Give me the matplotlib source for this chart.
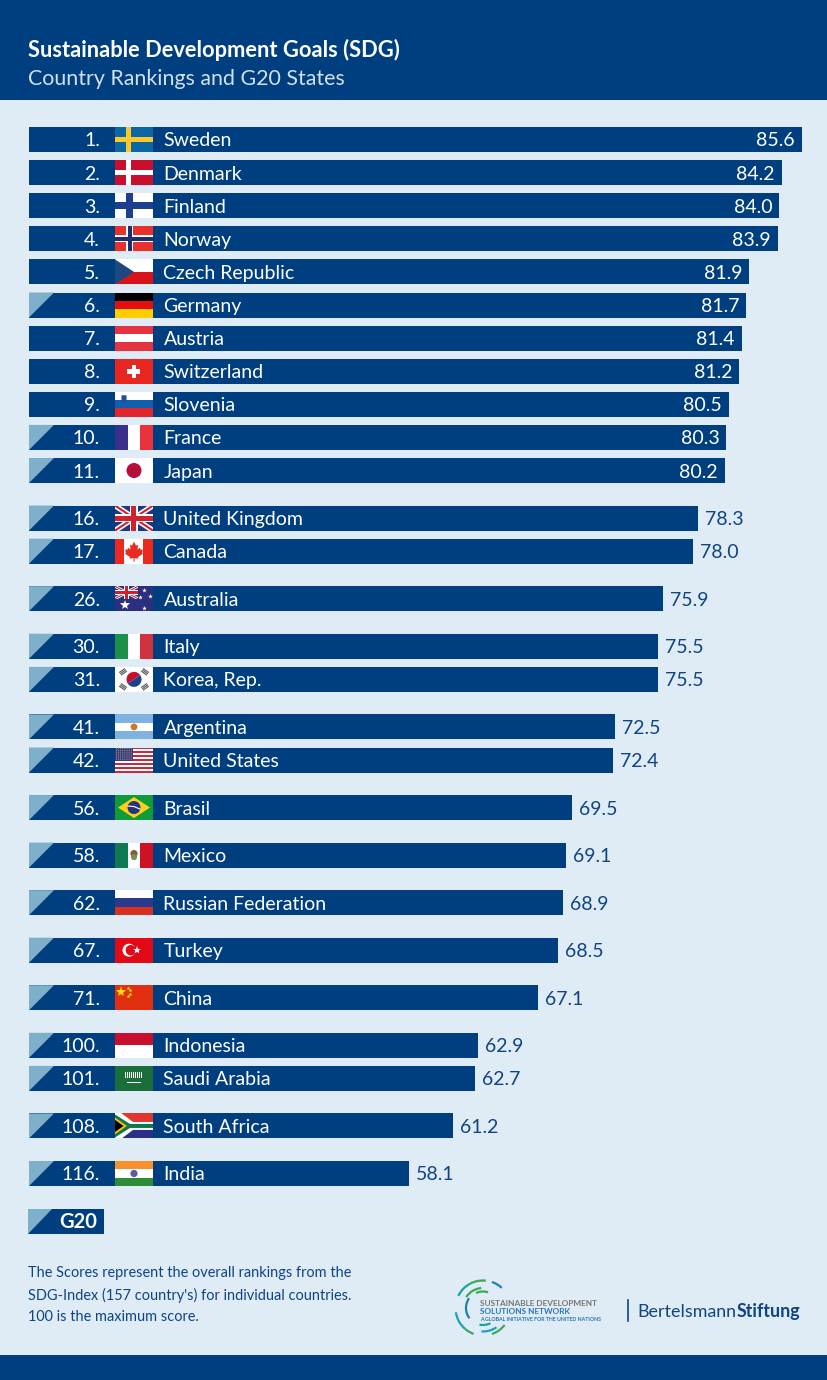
import numpy as np
import matplotlib
matplotlib.use("Agg")
import matplotlib.pyplot as plt
from matplotlib.patches import Rectangle, Polygon, Circle, Wedge, Arc
from matplotlib.transforms import Affine2D

plt.rcParams["font.family"] = ["Lato", "DejaVu Sans"]

ranks = [1, 2, 3, 4, 5, 6, 7, 8, 9, 10, 11, 16, 17, 26, 30, 31, 41, 42, 56, 58,
         62, 67, 71, 100, 101, 108, 116]
countries = ["Sweden", "Denmark", "Finland", "Norway", "Czech Republic", "Germany",
             "Austria", "Switzerland", "Slovenia", "France", "Japan", "United Kingdom",
             "Canada", "Australia", "Italy", "Korea, Rep.", "Argentina", "United States",
             "Brasil", "Mexico", "Russian Federation", "Turkey", "China", "Indonesia",
             "Saudi Arabia", "South Africa", "India"]
scores = [85.6, 84.2, 84.0, 83.9, 81.9, 81.7, 81.4, 81.2, 80.5, 80.3, 80.2, 78.3,
          78.0, 75.9, 75.5, 75.5, 72.5, 72.4, 69.5, 69.1, 68.9, 68.5, 67.1, 62.9,
          62.7, 61.2, 58.1]
g20 = ["Germany", "France", "Japan", "United Kingdom", "Canada", "Australia", "Italy",
       "Korea, Rep.", "Argentina", "United States", "Brasil", "Mexico",
       "Russian Federation", "Turkey", "China", "Indonesia", "Saudi Arabia",
       "South Africa", "India"]
note_lines = ["The Scores represent the overall rankings from the",
              "SDG-Index (157 country's) for individual countries.",
              "100 is the maximum score."]

W, H = 828, 1380
BLUE = "#003f7f"
BG = "#dfecf5"
LIGHT = "#7fb0cb"
TEXT = "#0f4485"
BAR_H = 25
FLAG_W, FLAG_H = 38, 25

fig = plt.figure(figsize=(W / 100, H / 100), dpi=100, facecolor=BG)

# bar centres: ranks that follow each other sit closer than the rest
ys = [139.5]
for a, b in zip(ranks[:-1], ranks[1:]):
    ys.append(ys[-1] + (33.1 if b - a == 1 else 47.55))

ax_bars = fig.add_axes([29 / W, 0, 773 / W, 1])
ax_bars.set_xlim(31.5, 85.6)
ax_bars.set_ylim(H, 0)
ax_bars.axis("off")
ax_bars.barh(ys, scores, height=BAR_H, color=BLUE)

ax = fig.add_axes([0, 0, 1, 1])
ax.set_xlim(0, W)
ax.set_ylim(H, 0)
ax.axis("off")
ax.patch.set_alpha(0)


def rect(tr, clip, x, y, w, h, color):
    p = Rectangle((x, y), w, h, fc=color, ec="none", transform=tr, lw=0)
    ax.add_patch(p)
    p.set_clip_path(clip)


def poly(tr, clip, pts, color):
    p = Polygon(pts, closed=True, fc=color, ec="none", transform=tr, lw=0)
    ax.add_patch(p)
    p.set_clip_path(clip)


def disc(tr, x, y, r, color):
    ax.add_patch(Circle((x, y), r, fc=color, ec="none", transform=tr, lw=0))


def star(tr, x, y, size, color):
    ax.plot([x], [y], marker="*", ms=size, color=color, mew=0, transform=tr)


def hstripes(tr, clip, colors):
    h = FLAG_H / len(colors)
    for i, c in enumerate(colors):
        rect(tr, clip, 0, i * h, FLAG_W, h + 0.2, c)


def vstripes(tr, clip, colors):
    w = FLAG_W / len(colors)
    for i, c in enumerate(colors):
        rect(tr, clip, i * w, 0, w + 0.2, FLAG_H, c)


def nordic(tr, clip, bg, outer, inner=None, ow=6, iw=3):
    rect(tr, clip, 0, 0, FLAG_W, FLAG_H, bg)
    rect(tr, clip, 11.5, 0, ow, FLAG_H, outer)
    rect(tr, clip, 0, (FLAG_H - ow) / 2, FLAG_W, ow, outer)
    if inner:
        rect(tr, clip, 11.5 + (ow - iw) / 2, 0, iw, FLAG_H, inner)
        rect(tr, clip, 0, (FLAG_H - iw) / 2, FLAG_W, iw, inner)


def union_jack(tr, clip, w, h):
    rect(tr, clip, 0, 0, w, h, "#26357f")
    for (a, b), (c, d) in [((0, 0), (w, h)), ((0, h), (w, 0))]:
        for col, lw in [("white", 0.13), ("#d0222e", 0.05)]:
            t = lw * h
            poly(tr, clip, [(a, b - t), (c, d - t), (c, d + t), (a, b + t)], col)
    rect(tr, clip, w / 2 - 0.17 * h, 0, 0.34 * h, h, "white")
    rect(tr, clip, 0, 0.33 * h, w, 0.34 * h, "white")
    rect(tr, clip, w / 2 - 0.1 * h, 0, 0.2 * h, h, "#d0222e")
    rect(tr, clip, 0, 0.4 * h, w, 0.2 * h, "#d0222e")


def draw_flag(name, x, y_top):
    tr = Affine2D().translate(x, y_top) + ax.transData
    clip = Rectangle((0, 0), FLAG_W, FLAG_H, transform=tr)
    if name == "Sweden":
        nordic(tr, clip, "#0a67a3", "#fdc72e", ow=5)
    elif name == "Denmark":
        nordic(tr, clip, "#c8102e", "white", ow=5)
    elif name == "Finland":
        nordic(tr, clip, "white", "#1c3f8f", ow=7)
    elif name == "Norway":
        nordic(tr, clip, "#e8312a", "white", "#1c2f6e", ow=7, iw=3.5)
    elif name == "Czech Republic":
        hstripes(tr, clip, ["white", "#d7141a"])
        poly(tr, clip, [(0, 0), (19, 12.5), (0, 25)], "#1c4a80")
    elif name == "Germany":
        hstripes(tr, clip, ["#000000", "#e30f0f", "#ffce00"])
    elif name == "Austria":
        hstripes(tr, clip, ["#e4343f", "white", "#e4343f"])
    elif name == "Switzerland":
        rect(tr, clip, 0, 0, FLAG_W, FLAG_H, "#e8261f")
        rect(tr, clip, 16.7, 6, 4.6, 13, "white")
        rect(tr, clip, 12.5, 10.2, 13, 4.6, "white")
    elif name == "Slovenia":
        hstripes(tr, clip, ["white", "#0f5fae", "#e0262d"])
        poly(tr, clip, [(6.5, 3.5), (11.5, 3.5), (11.5, 9), (9, 11), (6.5, 9)], "#1f4f9f")
    elif name == "France":
        vstripes(tr, clip, ["#3a2f8a", "white", "#e9323a"])
    elif name == "Japan":
        rect(tr, clip, 0, 0, FLAG_W, FLAG_H, "white")
        disc(tr, 19, 12.5, 7.5, "#b80f3a")
    elif name == "United Kingdom":
        union_jack(tr, clip, FLAG_W, FLAG_H)
    elif name == "Canada":
        vstripes(tr, clip, ["#ea2a1e", "white", "white", "#ea2a1e"])
        leaf = [(19, 3), (21, 7), (23, 6), (22.5, 11), (25, 9), (25.5, 11), (28, 11),
                (27, 14), (28, 15), (23, 18.5), (23.5, 20), (19.5, 19.5), (19.5, 23),
                (18.5, 23), (18.5, 19.5), (14.5, 20), (15, 18.5), (10, 15), (11, 14),
                (10, 11), (12.5, 11), (13, 9), (15.5, 11), (15, 6), (17, 7)]
        poly(tr, clip, leaf, "#ea2a1e")
    elif name == "Australia":
        rect(tr, clip, 0, 0, FLAG_W, FLAG_H, "#2a2f80")
        sub = Rectangle((0, 0), 23, 12.5, transform=tr)
        union_jack(tr, sub, 23, 12.5)
        star(tr, 10.5, 19, 7, "white")
        for sx, sy in [(29, 21.5), (29, 4), (35, 10), (25, 11)]:
            star(tr, sx, sy, 3.5, "white")
    elif name == "Italy":
        vstripes(tr, clip, ["#1a9049", "white", "#d0333f"])
    elif name == "Korea, Rep.":
        rect(tr, clip, 0, 0, FLAG_W, FLAG_H, "white")
        ax.add_patch(Wedge((19, 12.5), 7.5, 145, 325, fc="#c8102e", ec="none", transform=tr))
        ax.add_patch(Wedge((19, 12.5), 7.5, 325, 145, fc="#1c3f8f", ec="none", transform=tr))
        for cx, cy, ang in [(8, 5, -35), (30, 5, 35), (8, 20, 35), (30, 20, -35)]:
            d = np.deg2rad(ang)
            ux, uy = np.cos(d), np.sin(d)
            for k in (-1.6, 0, 1.6):
                ax.plot([cx - 3 * ux - k * uy, cx + 3 * ux - k * uy],
                        [cy - 3 * uy + k * ux, cy + 3 * uy + k * ux],
                        color="#555555", lw=0.8, transform=tr)
    elif name == "Argentina":
        hstripes(tr, clip, ["#7fb2e0", "white", "#7fb2e0"])
        disc(tr, 19, 12.5, 3.4, "#c77a26")
    elif name == "United States":
        h = FLAG_H / 13
        for i in range(13):
            rect(tr, clip, 0, i * h, FLAG_W, h + 0.1, "#c8283a" if i % 2 == 0 else "white")
        rect(tr, clip, 0, 0, 18, 7 * h, "#3c3b6e")
        for row in range(6):
            for col in range(8):
                disc(tr, 1.5 + col * 2.1, 1.2 + row * 2.1, 0.45, "#c9cbe0")
    elif name == "Brasil":
        rect(tr, clip, 0, 0, FLAG_W, FLAG_H, "#0f9b3a")
        poly(tr, clip, [(3, 12.5), (19, 2), (35, 12.5), (19, 23)], "#fcd116")
        disc(tr, 19, 12.5, 6.5, "#26357f")
        ax.plot([13, 19, 25], [11, 11.5, 14], color="white", lw=0.8, transform=tr)
    elif name == "Mexico":
        vstripes(tr, clip, ["#0f7a50", "white", "#ce1126"])
        disc(tr, 19, 11, 3.6, "#8a5a32")
        disc(tr, 19, 14.5, 3, "#6f8f5f")
    elif name == "Russian Federation":
        hstripes(tr, clip, ["white", "#2a3a8f", "#d8301f"])
    elif name == "Turkey":
        rect(tr, clip, 0, 0, FLAG_W, FLAG_H, "#e30a17")
        disc(tr, 14, 12.5, 6.5, "white")
        disc(tr, 15.8, 12.5, 5.2, "#e30a17")
        star(tr, 22.5, 12.5, 6, "white")
    elif name == "China":
        rect(tr, clip, 0, 0, FLAG_W, FLAG_H, "#e0300f")
        star(tr, 6.5, 6.5, 8, "#ffde00")
        for sx, sy in [(13, 2.5), (15.5, 5), (15.5, 8.5), (13, 11)]:
            star(tr, sx, sy, 3, "#ffde00")
    elif name == "Indonesia":
        hstripes(tr, clip, ["#c8102e", "white"])
    elif name == "Saudi Arabia":
        rect(tr, clip, 0, 0, FLAG_W, FLAG_H, "#1a6e3a")
        for k in range(9):
            rect(tr, clip, 10 + k * 2, 6, 1.3, 6, "white")
        rect(tr, clip, 12, 16, 14, 1, "white")
    elif name == "South Africa":
        rect(tr, clip, 0, 0, FLAG_W, 12.5, "#e0372f")
        rect(tr, clip, 0, 12.5, FLAG_W, 12.5, "#2b2f86")
        poly(tr, clip, [(0, -2), (4, -2), (18, 8.5), (38, 8.5), (38, 16.5), (18, 16.5),
                        (4, 27), (0, 27)], "white")
        poly(tr, clip, [(0, 1), (15, 10.5), (38, 10.5), (38, 14.5), (15, 14.5), (0, 24)],
             "#0a7a4a")
        poly(tr, clip, [(0, 4), (12, 12.5), (0, 21)], "#fcb514")
        poly(tr, clip, [(0, 6.5), (8.5, 12.5), (0, 18.5)], "#000000")
    elif name == "India":
        hstripes(tr, clip, ["#f7922e", "white", "#2e8b37"])
        disc(tr, 19, 12.5, 3.6, "#5a5aa8")


def g20_corner(x, y_top, h, w):
    ax.add_patch(Polygon([(x, y_top), (x + w, y_top), (x, y_top + h)], fc=LIGHT, ec="none"))


# header and footer bands
ax.add_patch(Rectangle((0, 0), W, 100, fc=BLUE, ec="none"))
ax.add_patch(Rectangle((0, 1355), W, 25, fc=BLUE, ec="none"))
ax.text(28, 50, "Sustainable Development Goals (SDG)", color="white", fontsize=15.75,
        fontweight="bold", va="center")
ax.text(28, 79, "Country Rankings and G20 States", color="#d3e0ee", fontsize=15.4,
        va="center")

for rank, name, score, y in zip(ranks, countries, scores, ys):
    top = y - BAR_H / 2
    if name in g20:
        g20_corner(29, top, BAR_H, 25)
    ax.text(100, y + 1.5, f"{rank}.", color="white", fontsize=14, ha="right", va="center")
    draw_flag(name, 115, top)
    ax.text(163.5, y + 1.5, name, color="white", fontsize=14, va="center")
    end = 29 + (score - 31.5) * 773 / (85.6 - 31.5)
    if score >= 80:
        ax.text(end - 7, y + 1.5, f"{score:.1f}", color="white", fontsize=14, ha="right", va="center")
    else:
        ax.text(end + 7, y + 1.5, f"{score:.1f}", color=TEXT, fontsize=14, va="center")

# legend box
ax.add_patch(Rectangle((28, 1209), 76, 25, fc=BLUE, ec="none"))
g20_corner(28, 1209, 25, 24)
ax.text(59, 1222, "G20", color="white", fontsize=14.5, fontweight="bold", va="center")

for i, line in enumerate(note_lines):
    ax.text(28, 1273 + i * 22, line, color=TEXT, fontsize=10.45, va="center")

# SDSN logo rings, angles as seen on the page
cx, cy = 483, 1308
arcs = [(27.5, 47, 71, "#1e7fb8"), (27.5, 118, 154, "#1aa5a0"), (27.5, 84, 118, "#3aaa5a"),
        (27.5, 189, 230, "#1e9fc0"), (27.5, 230, 250, "#3aaa5a"), (27.5, 289, 322, "#3aaa5a"),
        (20, 95, 147, "#3aaa5a"), (17, 145, 217, "#1e7fb8"), (16.5, 72, 115, "#3aaa5a"),
        (17, 258, 296, "#1aa5a0"), (23.5, 266, 305, "#1e9fc0")]
for r, v0, v1, col in arcs:
    # y axis points down, so the page angles flip
    ax.add_patch(Arc((cx, cy), 2 * r, 2 * r, theta1=-v1, theta2=-v0, color=col, lw=1.6))
ax.text(480, 1304, "SUSTAINABLE DEVELOPMENT", color="#777777", fontsize=5.95, fontweight="bold", va="center")
ax.text(480, 1312, "SOLUTIONS NETWORK", color="#2a76b8", fontsize=5.95, fontweight="bold", va="center")
ax.text(480, 1319.5, "A GLOBAL INITIATIVE FOR THE UNITED NATIONS", color="#2a76b8", fontsize=3.75,
        fontweight="bold", va="center")

ax.plot([628, 628], [1300, 1321], color=TEXT, lw=1.2)
t = ax.text(637, 1312, "Bertelsmann", color=TEXT, fontsize=12.9, va="center")
fig.canvas.draw()
bb = t.get_window_extent()
ax.text(bb.x1 + 0.5, 1312, "Stiftung", color=TEXT, fontsize=12.9, fontweight="bold", va="center")

fig.savefig("out.png", dpi=100, facecolor=BG)
